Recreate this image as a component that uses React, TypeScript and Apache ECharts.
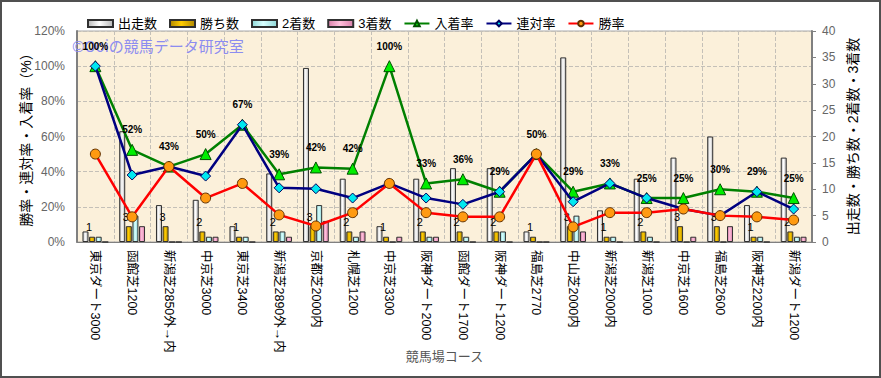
import React, { useEffect, useRef } from "react";
import * as echarts from "echarts";

const categories = [
  "東京ダート3000", "函館芝1200", "新潟芝2850外→内", "中京芝3000", "東京芝3400",
  "新潟芝2890外→内", "京都芝2000内", "札幌芝1200", "中京芝3300", "阪神ダート2000",
  "函館ダート1700", "阪神ダート1200", "福島芝2770", "中山芝2000内", "新潟芝2000内",
  "新潟芝1000", "中京芝1600", "福島芝2600", "阪神芝2200内", "新潟ダート1200",
];
const starts = [2, 21, 7, 8, 3, 13, 33, 12, 3, 12, 14, 14, 2, 35, 6, 12, 16, 20, 7, 16];
const wins = [1, 3, 3, 2, 1, 2, 3, 2, 1, 2, 2, 2, 1, 3, 1, 2, 3, 3, 1, 2];
const seconds = [1, 5, 0, 1, 1, 2, 7, 1, 0, 1, 1, 2, 0, 5, 1, 1, 0, 0, 1, 1];
const thirds = [0, 3, 0, 1, 0, 1, 4, 2, 1, 1, 0, 0, 0, 2, 0, 0, 1, 3, 0, 1];
const placeRate = [100, 52.4, 42.9, 50, 66.7, 38.5, 42.4, 41.7, 100, 33.3, 35.7, 28.6, 50, 28.6, 33.3, 25, 25, 30, 28.6, 25];
const quinellaRate = [100, 38.1, 42.9, 37.5, 66.7, 30.8, 30.3, 25, 33.3, 25, 21.4, 28.6, 50, 22.9, 33.3, 25, 18.75, 15, 28.6, 18.75];
const winRate = [50, 14.3, 42.9, 25, 33.3, 15.4, 9.1, 16.7, 33.3, 16.7, 14.3, 14.3, 50, 8.6, 16.7, 16.7, 18.75, 15, 14.3, 12.5];

const FONT = "'Liberation Sans', 'Noto Sans CJK JP', sans-serif";

function hGrad(edge: string, mid: string) {
  return new echarts.graphic.LinearGradient(0, 0, 1, 0, [
    { offset: 0, color: edge },
    { offset: 0.45, color: mid },
    { offset: 1, color: edge },
  ]);
}

export default function App() {
  const ref = useRef<HTMLDivElement>(null);
  useEffect(() => {
    if (!ref.current) return;
    const chart = echarts.init(ref.current, null, { renderer: "svg" });
    const barBase = {
      type: "bar",
      yAxisIndex: 1,
      barWidth: 6,
      barGap: "10%",
      z: 2,
    };
    chart.setOption({
      animation: false,
      backgroundColor: "#ffffff",
      textStyle: { fontFamily: FONT },
      grid: {
        left: 77,
        right: 69,
        top: 31,
        bottom: 136,
        containLabel: false,
        outerBoundsMode: "none",
        show: true,
        backgroundColor: "#fbf0da",
        borderColor: "#a8a8a8",
        borderWidth: 1,
      },
      legend: {
        left: 82,
        top: 12,
        itemWidth: 25,
        itemHeight: 7,
        itemGap: 12,
        textStyle: { fontSize: 13, color: "#000", fontFamily: FONT },
        data: [
          { name: "出走数", icon: "rect" },
          { name: "勝ち数", icon: "rect" },
          { name: "2着数", icon: "rect" },
          { name: "3着数", icon: "rect" },
          { name: "入着率" },
          { name: "連対率" },
          { name: "勝率" },
        ],
      },
      graphic: [
        {
          type: "text",
          left: 72,
          top: 38,
          z: 1,
          style: {
            text: "©Ooiの競馬データ研究室",
            fill: "#8c8cf0",
            fontSize: 15,
            fontFamily: "'Noto Sans CJK JP', sans-serif",
          },
        },
        {
          type: "rect",
          shape: { x: 1, y: 1, width: 879, height: 376 },
          style: { fill: "none", stroke: "#505050", lineWidth: 2 },
          z: 100,
        },
      ],
      xAxis: {
        type: "category",
        data: categories,
        name: "競馬場コース",
        nameLocation: "middle",
        nameGap: 108,
        nameMoveOverlap: false,
        nameTextStyle: { fontSize: 13, color: "#555" },
        axisLine: { lineStyle: { color: "#808080", width: 1 } },
        axisTick: { show: false },
        axisLabel: {
          interval: 0,
          rotate: -90,
          fontSize: 12.5,
          color: "#000",
          margin: 8,
        },
        splitLine: {
          show: true,
          interval: 0,
          lineStyle: { color: "#c4c0b8", type: "dashed", width: 1 },
        },
      },
      yAxis: [
        {
          type: "value",
          min: 0,
          max: 120,
          interval: 20,
          name: "勝率・連対率・入着率（%）",
          nameLocation: "middle",
          nameRotate: 90,
          nameGap: 44,
          nameMoveOverlap: false,
          nameTextStyle: { fontSize: 14, color: "#000" },
          axisLine: { show: true, lineStyle: { color: "#808080", width: 2 } },
          axisTick: { show: false },
          axisLabel: { formatter: "{value}%", fontSize: 12, color: "#666", margin: 12 },
          splitLine: { show: true, lineStyle: { color: "#c4c0b8", type: "dashed", width: 1 } },
        },
        {
          type: "value",
          min: 0,
          max: 40,
          interval: 5,
          name: "出走数・勝ち数・2着数・3着数",
          nameLocation: "middle",
          nameRotate: 90,
          nameGap: 34,
          nameMoveOverlap: false,
          nameTextStyle: { fontSize: 14, color: "#000" },
          axisLine: { show: true, lineStyle: { color: "#808080", width: 2 } },
          axisTick: { show: true, length: 4, lineStyle: { color: "#808080" } },
          axisLabel: { fontSize: 12, color: "#666", margin: 10 },
          splitLine: { show: false },
        },
      ],
      series: [
        {
          ...barBase,
          name: "出走数",
          data: starts,
          itemStyle: { color: hGrad("#b8b8b8", "#ffffff"), borderColor: "#303030", borderWidth: 1 },
        },
        {
          ...barBase,
          name: "勝ち数",
          data: wins,
          itemStyle: { color: hGrad("#b08800", "#ffcc00"), borderColor: "#303030", borderWidth: 1 },
          label: {
            show: true,
            position: "top",
            distance: 4,
            offset: [-3, 0],
            fontSize: 11,
            color: "#000",
          },
        },
        {
          ...barBase,
          name: "2着数",
          data: seconds,
          itemStyle: { color: hGrad("#90d8d8", "#d8ffff"), borderColor: "#303030", borderWidth: 1 },
        },
        {
          ...barBase,
          name: "3着数",
          data: thirds,
          itemStyle: { color: hGrad("#d880aa", "#ffc0dc"), borderColor: "#303030", borderWidth: 1 },
        },
        {
          type: "line",
          name: "入着率",
          yAxisIndex: 0,
          data: placeRate,
          z: 3,
          symbol: "triangle",
          symbolSize: 11,
          lineStyle: { color: "#008000", width: 2.5 },
          itemStyle: { color: "#00ee00", borderColor: "#005000", borderWidth: 1 },
          label: {
            show: true,
            position: "top",
            distance: 9,
            fontSize: 10,
            fontWeight: "bold",
            color: "#000",
            formatter: (p: any) => Math.round(p.value) + "%",
          },
        },
        {
          type: "line",
          name: "連対率",
          yAxisIndex: 0,
          data: quinellaRate,
          z: 4,
          symbol: "diamond",
          symbolSize: 10,
          lineStyle: { color: "#000080", width: 2.5 },
          itemStyle: { color: "#00e8f0", borderColor: "#000060", borderWidth: 1 },
        },
        {
          type: "line",
          name: "勝率",
          yAxisIndex: 0,
          data: winRate,
          z: 5,
          symbol: "circle",
          symbolSize: 10,
          lineStyle: { color: "#ff0000", width: 2.5 },
          itemStyle: { color: "#ff9a10", borderColor: "#603000", borderWidth: 1 },
        },
      ],
    });
    return () => chart.dispose();
  }, []);
  return (
    <div
      ref={ref}
      style={{ position: "fixed", left: 0, top: 0, width: 881, height: 378 }}
    />
  );
}
